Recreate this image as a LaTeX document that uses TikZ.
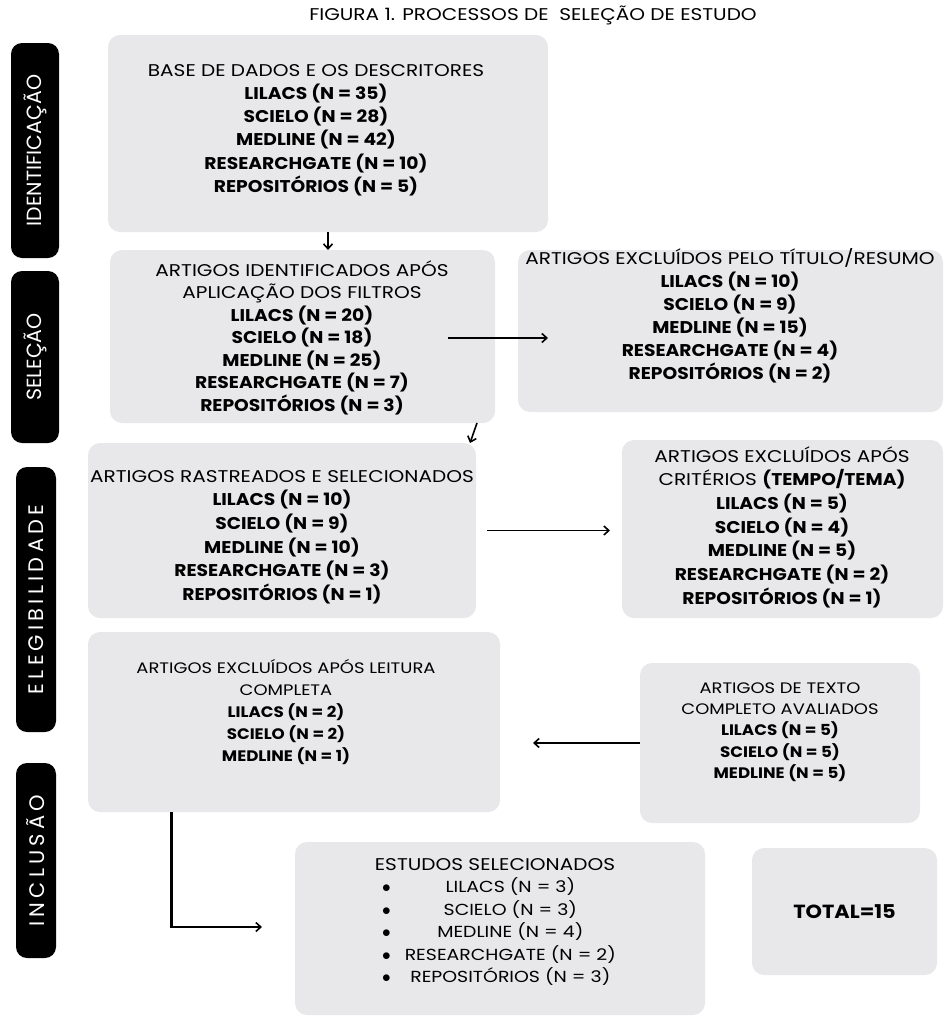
\documentclass[tikz,border=0pt]{standalone}
\usepackage{fontspec}
\setmainfont{Poppins}[FakeStretch=1.18]
\newfontfamily\boldfam{Poppins}[FakeStretch=1.1]
\newfontfamily\labelfont{Poppins}
\newfontfamily\labelwide{Poppins}[LetterSpace=20]
\newcommand\B[1]{{\boldfam\bfseries #1}}
\usetikzlibrary{arrows.meta,calc}
\definecolor{boxgray}{RGB}{232,232,235}
\begin{document}
\begin{tikzpicture}[x=1pt,y=-1pt,
  gbox/.style={fill=boxgray, draw=none, rounded corners=12pt, inner sep=0pt, outer sep=0pt, anchor=north west},
  lbox/.style={fill=black, draw=none, rounded corners=11pt, inner sep=0pt, outer sep=0pt, anchor=north west},
  ltext/.style={text=white, rotate=90, inner sep=0pt, font=\labelfont\fontsize{20.5}{22}\selectfont},
  lwtext/.style={text=white, rotate=90, inner sep=0pt, font=\labelwide\fontsize{21}{22}\selectfont},
  txt/.style={align=center, inner sep=0pt, font=\fontsize{17}{23}\selectfont},
  arr/.style={-{Straight Barb[length=5pt,width=9pt]}, line width=1.6pt},
]
\useasboundingbox (0,0) rectangle (943,1017);

% title
\node[inner sep=0pt, font=\fontsize{17}{18}\selectfont] (title) at (533,15) {FIGURA 1. PROCESSOS DE\ \ SELEÇÃO DE ESTUDO};

% side labels
\node[lbox, minimum width=48pt, minimum height=215pt] (l1) at (11,43) {};
\node[ltext] (l1t) at (l1.center) {IDENTIFICAÇÃO};
\node[lbox, minimum width=48pt, minimum height=172pt] (l2) at (11,271) {};
\node[ltext] (l2t) at (l2.center) {SELEÇÃO};
\node[lbox, minimum width=40pt, minimum height=265pt] (l3) at (16,467) {};
\node[lwtext] (l3t) at (l3.center) {ELEGIBILIDADE};
\node[lbox, minimum width=40pt, minimum height=195pt] (l4) at (16,763) {};
\node[lwtext] (l4t) at (l4.center) {INCLUSÃO};

% boxes
\node[gbox, minimum width=440pt, minimum height=197pt] (b1) at (108,35) {};
\node[gbox, minimum width=385pt, minimum height=173pt] (b2) at (110,250) {};
\node[gbox, minimum width=425pt, minimum height=162pt] (b3) at (518,250) {};
\node[gbox, minimum width=388pt, minimum height=175pt] (b4) at (88,443) {};
\node[gbox, minimum width=321pt, minimum height=178pt] (b5) at (622,440) {};
\node[gbox, minimum width=412pt, minimum height=180pt] (b6) at (88,632) {};
\node[gbox, minimum width=280pt, minimum height=160pt] (b7) at (640,663) {};
\node[gbox, minimum width=410pt, minimum height=173pt] (b8) at (295,842) {};
\node[gbox, minimum width=185pt, minimum height=127pt] (b9) at (752,848) {};

% texts
\node[txt, font=\fontsize{17}{23.2}\selectfont] (t1) at (316,130) {BASE DE DADOS E OS DESCRITORES\\ \B{LILACS (N = 35)}\\ \B{SCIELO (N = 28)}\\ \B{MEDLINE (N = 42)}\\ \B{RESEARCHGATE (N = 10)}\\ \B{REPOSITÓRIOS (N = 5)}};
\node[txt, font=\fontsize{17}{22.5}\selectfont] (t2) at (302,337.5) {ARTIGOS IDENTIFICADOS APÓS\\ APLICAÇÃO DOS FILTROS\\ \B{LILACS (N = 20)}\\ \B{SCIELO (N = 18)}\\ \B{MEDLINE (N = 25)}\\ \B{RESEARCHGATE (N = 7)}\\ \B{REPOSITÓRIOS (N = 3)}};
\node[txt, font=\fontsize{17}{23}\selectfont] (t3) at (730,315.5) {ARTIGOS EXCLUÍDOS PELO TÍTULO/RESUMO\\ \B{LILACS (N = 10)}\\ \B{SCIELO (N = 9)}\\ \B{MEDLINE (N = 15)}\\ \B{RESEARCHGATE (N = 4)}\\ \B{REPOSITÓRIOS (N = 2)}};
\node[txt, font=\fontsize{17}{23.6}\selectfont] (t4) at (282,537) {ARTIGOS RASTREADOS E SELECIONADOS\\ \B{LILACS (N = 10)}\\ \B{SCIELO (N = 9)}\\ \B{MEDLINE (N = 10)}\\ \B{RESEARCHGATE (N = 3)}\\ \B{REPOSITÓRIOS (N = 1)}};
\node[txt, font=\fontsize{17}{23.7}\selectfont] (t5) at (782,527) {ARTIGOS EXCLUÍDOS APÓS\\ CRITÉRIOS \B{(TEMPO/TEMA)}\\ \B{LILACS (N = 5)}\\ \B{SCIELO (N = 4)}\\ \B{MEDLINE (N = 5)}\\ \B{RESEARCHGATE (N = 2)}\\ \B{REPOSITÓRIOS (N = 1)}};
\node[txt, font=\fontsize{15.2}{22}\selectfont] (t6) at (286,712) {ARTIGOS EXCLUÍDOS APÓS LEITURA\\ COMPLETA\\ \B{LILACS (N = 2)}\\ \B{SCIELO (N = 2)}\\ \B{MEDLINE (N = 1)}};
\node[txt, font=\fontsize{15.2}{21.3}\selectfont] (t7) at (780,732) {ARTIGOS DE TEXTO\\ COMPLETO AVALIADOS\\ \B{LILACS (N = 5)}\\ \B{SCIELO (N = 5)}\\ \B{MEDLINE (N = 5)}};
\node[txt] (t8h) at (495,865) {ESTUDOS SELECIONADOS};
\node[txt, font=\fontsize{16}{22.5}\selectfont] (t8) at (499,933) {\begin{tabular}{@{}l@{\hspace{14pt}}c@{}}
$\bullet$ & LILACS (N = 3)\\
$\bullet$ & SCIELO (N = 3)\\
$\bullet$ & MEDLINE (N = 4)\\
$\bullet$ & RESEARCHGATE (N = 2)\\
$\bullet$ & REPOSITÓRIOS (N = 3)
\end{tabular}};
\node[txt, font=\fontsize{19}{22}\selectfont] (t9) at (b9.center) {\B{TOTAL=15}};

% connectors
\draw[arr] (b1.south) -- (b1.south |- b2.north);
\coordinate (a2s) at ($(b2.east)+(-47,1.5)$);
\draw[arr] (a2s) -- (a2s -| {$(b3.west)+(30,0)$});
\coordinate (a3s) at ($(b2.south east)+(-18,0)$);
\draw[arr] (a3s) -- ($(b4.north east)+(-6,0)$);
\coordinate (a4s) at ($(b4.east)+(11,0)$);
\draw[arr] (a4s) -- (a4s -| {$(b5.west)+(-12,0)$});
\draw[arr] (b7.west) -- ($(b6.east |- b7.west)+(33,0)$);
\coordinate (e1) at ($(b6.south west)+(83,0)$);
\coordinate (e2) at ($(b8.west)+(-33,-1.5)$);
\draw[line width=3pt] (e1) -- (e1 |- e2);
\draw[arr] ($(e1 |- e2)+(-1.5,0)$) -- (e2);
\end{tikzpicture}
\end{document}
